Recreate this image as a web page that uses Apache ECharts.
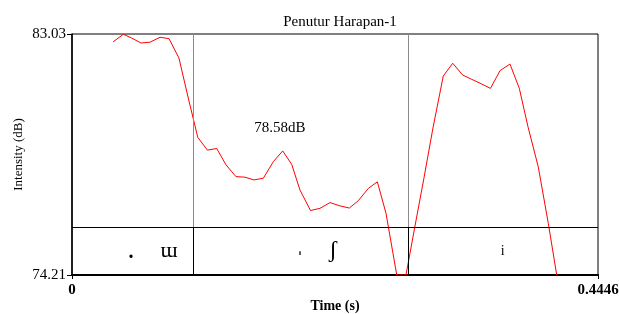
<!DOCTYPE html>
<html>
<head>
<meta charset="utf-8">
<script src="https://cdn.jsdelivr.net/npm/echarts@6/dist/echarts.min.js"></script>
<style>html,body{margin:0;padding:0;background:#fff}#c{width:619px;height:314px}</style>
</head>
<body>
<div id="c"></div>
<script>
const titleText = 'Penutur Harapan-1';
const times = [0.0347,0.0434,0.0505,0.0583,0.0659,0.0744,0.0820,0.0904,0.0981,0.1063,0.1144,0.1223,0.1302,0.1386,0.1462,0.1538,0.1617,0.1702,0.1781,0.1857,0.1927,0.2016,0.2096,0.2181,0.2265,0.2344,0.2420,0.2505,0.2581,0.2654,0.2745,0.2823,0.2899,0.2975,0.3051,0.3138,0.3218,0.3302,0.3379,0.3463,0.3537,0.3618,0.3702,0.3781,0.3854,0.3941,0.4026,0.4097];
const intensity = [82.74,83.02,82.88,82.70,82.73,82.91,82.86,82.15,80.72,79.25,78.78,78.84,78.24,77.81,77.79,77.69,77.75,78.36,78.75,78.26,77.32,76.57,76.65,76.86,76.74,76.66,76.93,77.38,77.62,76.47,74.21,74.21,76.00,77.76,79.59,81.49,81.96,81.53,81.37,81.20,81.04,81.69,81.93,81.04,79.64,78.17,76.10,74.21];
const xTicks = [0, 0.4446];
const yTicks = [74.21, 83.03];
const boundaries = [0.1023, 0.2840];
const tierTop = 75.97;
const tierLabels = ['.', 'ɯ', 'ˈ', 'ʃ', 'i'];
const tierLabelTimes = [0.0499, 0.0820, 0.1927, 0.2206, 0.3640];
const tierLabelLevels = [75.02, 75.09, 74.94, 75.09, 75.09];
const meanText = '78.58dB';
const meanPos = [0.1758, 79.59];

const serif = 'Liberation Serif, Times New Roman, serif';
const xMin = xTicks[0], xMax = xTicks[xTicks.length-1];
const yMin = yTicks[0], yMax = yTicks[yTicks.length-1];

const markData = [];
boundaries.forEach(b => {
  markData.push([{coord:[b, yMax], lineStyle:{color:'#8c8c8c', width:1, type:'solid'}}, {coord:[b, tierTop]}]);
  markData.push([{coord:[b, tierTop], lineStyle:{color:'#000', width:1, type:'solid'}}, {coord:[b, yMin]}]);
});
markData.push([{coord:[xMin, tierTop], lineStyle:{color:'#000', width:1, type:'solid'}}, {coord:[xMax, tierTop]}]);

const labelSizes = [20, 22, 24, 24, 14];
const labelOffsets = [[0, 0], [0, 0], [0, 7], [0, 0], [0, 0]];
const annData = tierLabels.map((t, i) => ({
  name: t,
  value: [tierLabelTimes[i], tierLabelLevels[i]],
  label: {fontSize: labelSizes[i], fontWeight: (i === 0 || i === 2) ? 'bold' : 'normal', offset: labelOffsets[i], color: '#000'}
}));
annData.push({name: meanText, value: meanPos, label: {fontSize: 15, color: '#000'}});

const chart = echarts.init(document.getElementById('c'), null, {renderer: 'canvas'});
chart.setOption({
  animation: false,
  backgroundColor: '#fff',
  title: {
    text: titleText, left: 335, top: 10, textAlign: 'center',
    textStyle: {fontFamily: serif, fontSize: 15, fontWeight: 'normal', color: '#000'}
  },
  grid: {left: 72, right: 21, top: 34, bottom: 39, show: true, borderColor: '#000', borderWidth: 1,
    backgroundColor: 'transparent', containLabel: false, outerBoundsMode: 'none'},
  xAxis: {
    type: 'value', min: xMin, max: xMax,
    name: 'Time (s)', nameLocation: 'middle', nameGap: 24, nameMoveOverlap: false,
    nameTextStyle: {fontFamily: serif, fontSize: 14, fontWeight: 'bold', color: '#000'},
    axisLine: {show: true, lineStyle: {color: '#000', width: 2}},
    axisTick: {show: true, length: 4, customValues: xTicks, lineStyle: {color: '#000', width: 1}},
    axisLabel: {show: true, customValues: xTicks, margin: 8, fontFamily: serif, fontSize: 15, fontWeight: 'bold', color: '#000',
      formatter: v => (v === 0 ? '0' : String(v)), showMinLabel: true, showMaxLabel: true},
    splitLine: {show: false}
  },
  yAxis: {
    type: 'value', min: yMin, max: yMax,
    name: 'Intensity (dB)', nameLocation: 'middle', nameGap: 47, nameMoveOverlap: false,
    nameTextStyle: {fontFamily: serif, fontSize: 13, color: '#000'},
    axisLine: {show: true, lineStyle: {color: '#000', width: 1.5}},
    axisTick: {show: true, length: 5, customValues: yTicks, lineStyle: {color: '#000', width: 1}},
    axisLabel: {show: true, customValues: yTicks, margin: 6, fontFamily: serif, fontSize: 15, color: '#000',
      formatter: v => v.toFixed(2), showMinLabel: true, showMaxLabel: true},
    splitLine: {show: false}
  },
  series: [
    {
      type: 'line',
      data: times.map((t, i) => [t, intensity[i]]),
      showSymbol: false, symbol: 'none',
      lineStyle: {color: '#ff0000', width: 1},
      silent: true, clip: true,
      markLine: {symbol: 'none', silent: true, animation: false, label: {show: false}, data: markData}
    },
    {
      type: 'scatter',
      symbolSize: 0,
      silent: true,
      itemStyle: {color: '#000', opacity: 0},
      data: annData,
      label: {show: true, position: 'inside', formatter: p => p.name, fontFamily: serif, color: '#000',
        textBorderWidth: 0, opacity: 1, align: 'center', verticalAlign: 'middle'}
    }
  ]
});
</script>
</body>
</html>
